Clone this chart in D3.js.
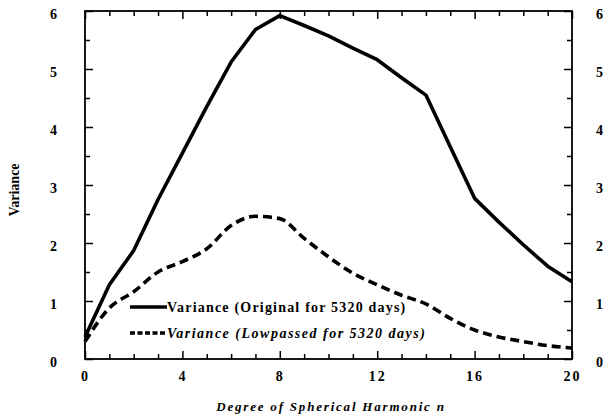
<!DOCTYPE html>
<html><head><meta charset="utf-8">
<script src="https://cdn.jsdelivr.net/npm/d3@7"></script>
<style>
body{margin:0;background:#fff;}
svg text{font-family:"Liberation Serif","Times New Roman",serif;font-weight:bold;fill:#000;}
</style></head>
<body><svg id="c" width="603" height="417"></svg>
<script>
const degrees = d3.range(0, 21);
const originalVariance = [0.38,1.28,1.87,2.75,3.55,4.35,5.12,5.68,5.92,5.75,5.57,5.36,5.16,4.85,4.55,3.66,2.77,2.36,1.97,1.6,1.33];
const lowpassedVariance = [0.3,0.88,1.16,1.5,1.68,1.9,2.3,2.46,2.42,2.08,1.76,1.48,1.28,1.1,0.95,0.7,0.5,0.38,0.3,0.23,0.19];
const xTickLabels = [0,4,8,12,16,20];
const yTickLabels = [0,1,2,3,4,5,6];
const legendLabels = ["Variance (Original for 5320 days)","Variance (Lowpassed for 5320 days)"];

(function(){
const svg = d3.select("#c");
const L=85, R=572, T=11, B=359;
const x = d3.scaleLinear().domain([0,20]).range([L,R]);
const y = d3.scaleLinear().domain([0,6]).range([B,T]);

svg.append("rect").attr("x",L).attr("y",T).attr("width",R-L).attr("height",B-T)
  .attr("fill","none").attr("stroke","#000").attr("stroke-width",1.8);

const minorX = d3.range(0,21,1).filter(v=>v%4!==0);
const minorY = d3.range(0.5,6,1);
function ticks(g){ g.selectAll("line").attr("stroke","#000").attr("stroke-width",1.5); }

const botAx = svg.append("g").attr("transform",`translate(0,${B})`)
  .call(d3.axisBottom(x).tickValues(xTickLabels).tickSize(-8).tickPadding(14).tickFormat(d3.format("d")));
botAx.select(".domain").remove();
botAx.selectAll("text").attr("font-size",14).attr("letter-spacing","2px").attr("dy","0.55em");
const botMinor = svg.append("g").attr("transform",`translate(0,${B})`)
  .call(d3.axisBottom(x).tickValues(minorX).tickSize(-5).tickFormat(""));
botMinor.select(".domain").remove();
const topAx = svg.append("g").attr("transform",`translate(0,${T})`)
  .call(d3.axisTop(x).tickValues(xTickLabels).tickSize(-8).tickFormat(""));
topAx.select(".domain").remove();
const topMinor = svg.append("g").attr("transform",`translate(0,${T})`)
  .call(d3.axisTop(x).tickValues(minorX).tickSize(-5).tickFormat(""));
topMinor.select(".domain").remove();
const leftAx = svg.append("g").attr("transform",`translate(${L},0)`)
  .call(d3.axisLeft(y).tickValues(yTickLabels).tickSize(-8).tickPadding(28).tickFormat(d3.format("d")));
leftAx.select(".domain").remove();
leftAx.selectAll("text").attr("font-size",14).attr("dy","0.55em");
const leftMinor = svg.append("g").attr("transform",`translate(${L},0)`)
  .call(d3.axisLeft(y).tickValues(minorY).tickSize(-5).tickFormat(""));
leftMinor.select(".domain").remove();
const rightAx = svg.append("g").attr("transform",`translate(${R},0)`)
  .call(d3.axisRight(y).tickValues(yTickLabels).tickSize(-8).tickPadding(24).tickFormat(d3.format("d")));
rightAx.select(".domain").remove();
rightAx.selectAll("text").attr("font-size",14).attr("dy","0.55em");
const rightMinor = svg.append("g").attr("transform",`translate(${R},0)`)
  .call(d3.axisRight(y).tickValues(minorY).tickSize(-5).tickFormat(""));
rightMinor.select(".domain").remove();
[botAx,botMinor,topAx,topMinor,leftAx,leftMinor,rightAx,rightMinor].forEach(ticks);

const solid = d3.line().x((d,i)=>x(degrees[i])).y(d=>y(d)).curve(d3.curveLinear);
const smooth = d3.line().x((d,i)=>x(degrees[i])).y(d=>y(d)).curve(d3.curveMonotoneX);
svg.append("path").attr("d",solid(originalVariance)).attr("fill","none")
  .attr("stroke","#000").attr("stroke-width",3.6).attr("stroke-linejoin","round");
svg.append("path").attr("d",smooth(lowpassedVariance)).attr("fill","none")
  .attr("stroke","#000").attr("stroke-width",3.6).attr("stroke-dasharray","9,5");

const lg = svg.append("g");
lg.append("line").attr("x1",130).attr("x2",167).attr("y1",307).attr("y2",307)
  .attr("stroke","#000").attr("stroke-width",3.6);
lg.append("text").attr("x",167).attr("y",312).attr("font-size",14).attr("letter-spacing","1.2px")
  .text(legendLabels[0]);
lg.append("line").attr("x1",130).attr("x2",167).attr("y1",333).attr("y2",333)
  .attr("stroke","#000").attr("stroke-width",3.6).attr("stroke-dasharray","5,2.5");
lg.append("text").attr("x",167).attr("y",338).attr("font-size",14).attr("letter-spacing","1.5px")
  .attr("font-style","italic").text(legendLabels[1]);

svg.append("text").attr("x",331).attr("y",411).attr("text-anchor","middle")
  .attr("font-size",13).attr("font-style","italic").attr("letter-spacing","1.8px")
  .text("Degree of Spherical Harmonic n");
svg.append("text").attr("transform","translate(19,190) rotate(-90)").attr("text-anchor","middle")
  .attr("font-size",14).text("Variance");
})();
</script></body></html>
